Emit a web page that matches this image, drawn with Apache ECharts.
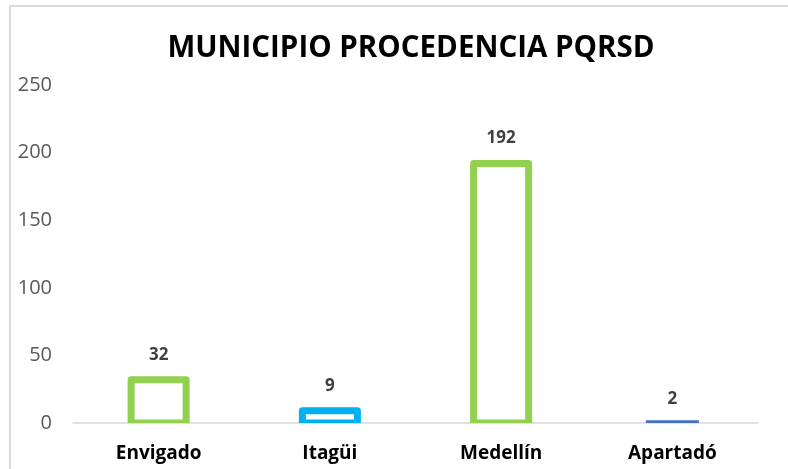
<!DOCTYPE html>
<html>
<head>
<meta charset="utf-8">
<script src="https://cdn.jsdelivr.net/npm/echarts@6/dist/echarts.min.js"></script>
<style>
  html, body { margin: 0; padding: 0; background: #fff; }
  #chart { width: 788px; height: 469px; }
</style>
</head>
<body>
<div id="chart"></div>
<script>
  // datos del gráfico
  var municipios = ['Envigado', 'Itagüi', 'Medellín', 'Apartadó']
  var cantidades = [32, 9, 192, 2]
  var colores = ['#92D050', '#00B0F0', '#92D050', '#4472C4']
  var rellenos = [false, false, false, true] // Apartadó va relleno
  var ticksY = [0, 50, 100, 150, 200, 250]

  var chart = echarts.init(document.getElementById('chart'))

  // barras con borde centrado sobre el borde (como en Excel)
  function dibujarBarra(params, api) {
    var i = params.dataIndex
    var base = api.coord([api.value(0), 0])
    var tope = api.coord([api.value(0), api.value(1)])
    var relleno = rellenos[i]
    var ancho = relleno ? 53 : 55
    return {
      type: 'rect',
      shape: { x: tope[0] - ancho / 2, y: tope[1], width: ancho, height: base[1] - tope[1] },
      style: relleno
        ? { fill: colores[i] }
        : { fill: '#fff', stroke: colores[i], lineWidth: 7, lineJoin: 'round' },
      textContent: {
        style: {
          text: String(api.value(1)),
          fill: '#404040',
          fontSize: 17,
          fontWeight: 'bold',
          fontFamily: 'Open Sans'
        }
      },
      textConfig: { position: 'top', distance: 13 }
    }
  }

  var option = {
    animation: false,
    textStyle: { fontFamily: 'Open Sans' },
    title: {
      text: 'MUNICIPIO PROCEDENCIA PQRSD',
      left: 406,
      top: 29,
      textAlign: 'center',
      textStyle: { fontSize: 29.5, fontWeight: 'bold', color: '#000', fontFamily: 'Open Sans' }
    },
    graphic: [
      { type: 'line', shape: { x1: 9, y1: 6, x2: 788, y2: 6 }, style: { stroke: '#D9D9D9', lineWidth: 2 } },
      { type: 'line', shape: { x1: 10, y1: 6, x2: 10, y2: 469 }, style: { stroke: '#D9D9D9', lineWidth: 2 } }
    ],
    grid: { left: 73, right: 30, top: 85, bottom: 46 },
    xAxis: {
      type: 'category',
      data: municipios,
      axisTick: { show: false },
      axisLine: { lineStyle: { color: '#D9D9D9', width: 1.5 } },
      axisLabel: { color: '#000', fontSize: 19, fontWeight: 'bold', margin: 21 }
    },
    yAxis: {
      type: 'value',
      min: ticksY[0],
      max: ticksY[ticksY.length - 1],
      interval: 50,
      axisLine: { show: false },
      axisTick: { show: false },
      splitLine: { show: false },
      axisLabel: { color: '#595959', fontSize: 20, margin: 21 }
    },
    series: [{
      type: 'custom',
      clip: true,
      z: 1,
      renderItem: dibujarBarra,
      encode: { x: 0, y: 1 },
      data: cantidades.map(function (v, i) { return [i, v] })
    }]
  }
  chart.setOption(option)
</script>
</body>
</html>
